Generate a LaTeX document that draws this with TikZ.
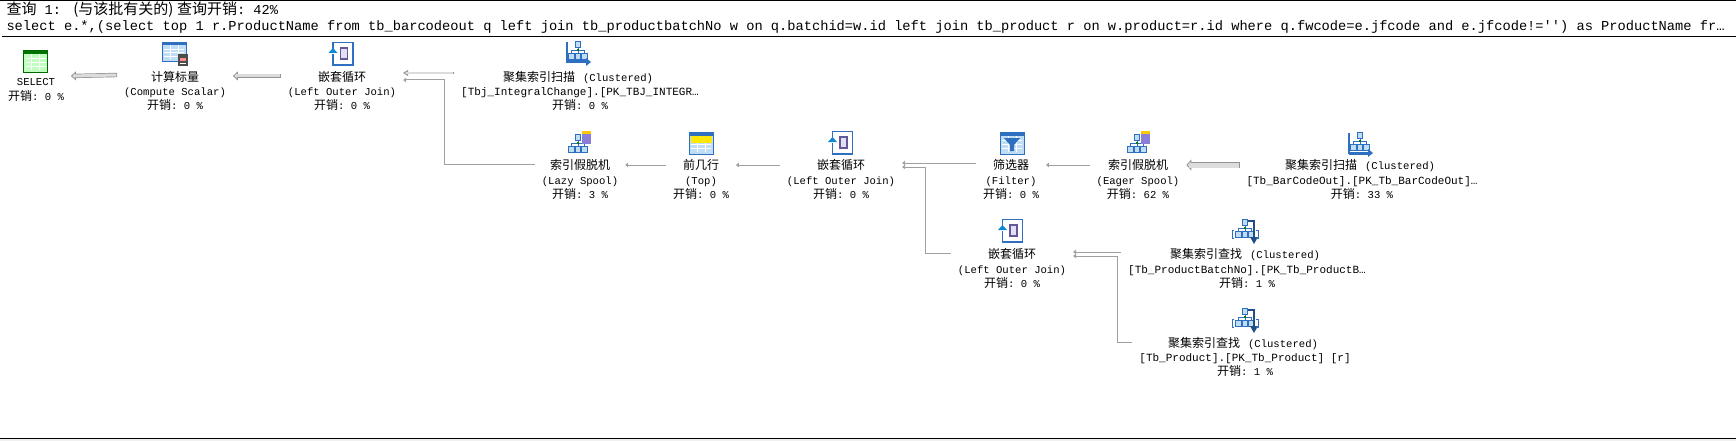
\documentclass[tikz,border=0pt]{standalone}
\usepackage{fontspec}
\setmonofont{Liberation Mono}
\newfontfamily\cjk{Noto Sans CJK SC}
\usetikzlibrary{arrows.meta}
\definecolor{linkgray}{HTML}{A0A0A0}
\definecolor{linkfill}{HTML}{DCDCDC}
\definecolor{iconblue}{HTML}{2F6FBF}
\definecolor{boxblue}{HTML}{BFDDF5}
\definecolor{spoolpurple}{HTML}{8A7FD8}
\newcommand{\opname}[3]{{\cjk\fontsize{12}{14}\selectfont #1}\\{#2}\\{\cjk\fontsize{12}{14}\selectfont 开销}: #3 \%}
\newcommand{\clus}{\hspace{8pt}{\ttfamily\fontsize{10.6}{14}\selectfont (Clustered)}\kern4pt}
\newcommand{\longrow}[1]{{\fontsize{11}{14.2}\selectfont #1}}
\tikzset{
  oplabel/.style={align=center,inner sep=0pt,outer sep=7pt,font=\ttfamily\fontsize{10.6}{14.2}\selectfont},
  headtext/.style={anchor=west,inner sep=0pt,font=\ttfamily\fontsize{13.7}{16}\selectfont},
  linkthin/.style={linkgray,line width=1pt,-{Triangle[length=3pt,width=4.5pt]}},
  linkfat/.style n args={2}{draw=gray!85,line width=#1+1.4pt,-{Triangle[length=5pt,width=#2,fill=linkfill,line width=.8pt]},
    postaction={draw=linkfill,line width=#1,-,shorten >=3pt,shorten <=.7pt}},
  pics/tablepic/.style n args={3}{code={
    \fill[#2] (-12,-11) rectangle (12,11);
    \fill[#1] (-12,-11) rectangle (12,-7);
    \foreach \yy in {-3,1,5}{\draw[white,line width=.5pt] (-10,\yy)--(10,\yy);}
    \foreach \xx in {-4,4}{\draw[white,line width=.5pt] (\xx,-7)--(\xx,9);}
    \draw[#3,line width=.5pt] (-12,-11) rectangle (12,11);
  }},
  pics/looppic/.style={code={
    \draw[iconblue,line width=1.6pt] (-9.5,-5)--(-9.5,-11.5)--(10.5,-11.5)--(10.5,11)--(-9.5,11)--(-9.5,0);
    \draw[spoolpurple!70!black,fill=spoolpurple!25,line width=1.2pt] (-2,-6) rectangle (5,5);
    \fill[cyan!70!blue] (-14,-1)--(-9.5,-6)--(-5,-1)--cycle;
  }},
  pics/treepic/.style={code={
    \draw[iconblue,line width=.7pt] (0,6)--(0,12) (-6.5,12)--(-6.5,9)--(6.5,9)--(6.5,12);
    \foreach \xx in {-6.5,0,6.5}{\draw[iconblue,fill=boxblue,line width=.7pt] (\xx-2.8,12) rectangle (\xx+2.8,18);}
    \draw[iconblue,fill=boxblue,line width=.7pt] (-2.8,0) rectangle (2.8,6);
    \fill[green!50!black] (-1,8) rectangle (1,10);
  }}
}
\begin{document}
\begin{tikzpicture}[x=1pt,y=-1pt,line width=1pt]
\useasboundingbox (0,0) rectangle (1736,441);
\fill[black!6] (0,439) rectangle (1736,441);
\draw (0,.5)--(1736,.5);
\draw (2,37)--(1736,37);
\draw (0,438)--(1736,438);
\node[headtext] (qtitle) at (6,10) {{\cjk\fontsize{15}{16}\selectfont 查询} 1: \hspace{4pt}{\cjk\fontsize{15}{16}\selectfont (与该批有关的)\hspace{3.5pt}查询开销}: 42\%};
\node[headtext] (qsql) at (6,27) {select e.*,(select top 1 r.ProductName from tb\_barcodeout q left join tb\_productbatchNo w on q.batchid=w.id left join tb\_product r on w.product=r.id where q.fwcode=e.jfcode and e.jfcode!='') as ProductName fr…};
% labels
\node[oplabel] (sel) at (36,90) {SELECT\\{\cjk\fontsize{12}{14}\selectfont 开销}: 0 \%};
\node[oplabel] (cscalar) at (175,91) {\opname{计算标量}{(Compute Scalar)}{0}};
\node[oplabel] (nlone) at (342,91) {\opname{嵌套循环}{(Left Outer Join)}{0}};
\node[oplabel] (scanint) at (580,91) {\opname{聚集索引扫描\clus}{\longrow{[Tbj\_IntegralChange].[PK\_TBJ\_INTEGR…}}{0}};
\node[oplabel] (lazy) at (580,179.5) {\opname{索引假脱机}{(Lazy Spool)}{3}};
\node[oplabel] (topn) at (701,179.5) {\opname{前几行}{(Top)}{0}};
\node[oplabel] (nltwo) at (841,179.5) {\opname{嵌套循环}{(Left Outer Join)}{0}};
\node[oplabel] (filt) at (1011,179.5) {\opname{筛选器}{(Filter)}{0}};
\node[oplabel] (eager) at (1138,179.5) {\opname{索引假脱机}{(Eager Spool)}{62}};
\node[oplabel] (scanbar) at (1362,179.5) {\opname{聚集索引扫描\clus}{\longrow{[Tb\_BarCodeOut].[PK\_Tb\_BarCodeOut]…}}{33}};
\node[oplabel] (nlthree) at (1012,268.5) {\opname{嵌套循环}{(Left Outer Join)}{0}};
\node[oplabel] (seekbatch) at (1247,268.5) {\opname{聚集索引查找\clus}{\longrow{[Tb\_ProductBatchNo].[PK\_Tb\_ProductB…}}{1}};
\node[oplabel] (seekprod) at (1245,357) {\opname{聚集索引查找\clus}{\longrow{[Tb\_Product].[PK\_Tb\_Product] [r]}}{1}};
% icons
\pic at (35.5,61) {tablepic={green!45!black}{green!25!white}{green!40!black}};
\pic[yscale=.86] at (174,51.5) {tablepic={iconblue}{boxblue}{iconblue}};
\fill[gray!60!black] (178,54) rectangle (188,66);
\fill[red!45!white] (180,58) rectangle (186,61);
\draw[white,line width=.6pt] (180,63)--(186,63);
\pic at (701,143) {tablepic={iconblue}{boxblue}{iconblue}};
\fill[yellow!90!orange] (691,136) rectangle (712,143);
\pic at (1012,143) {tablepic={iconblue}{boxblue}{iconblue}};
\fill[iconblue] (1004,138)--(1020,138)--(1014,145)--(1014,151)--(1010,151)--(1010,145)--cycle;
\foreach \px/\py in {342.5/54,842/143,1012/231}{\pic at (\px,\py) {looppic};}
\foreach \px/\py in {578/41,1360/132,1245/219,1245/308,578/134,1137/134}{\pic at (\px,\py) {treepic};}
\foreach \px/\py in {578/41,1360/132}{
  \begin{scope}[shift={(\px,\py)}]
  \draw[iconblue,line width=2pt] (-11,1)--(-11,22);
  \draw[iconblue,line width=3pt] (-11,21)--(8,21);
  \fill[iconblue] (8,17)--(13,21)--(8,25)--cycle;
  \end{scope}}
\foreach \px/\py in {1245/219,1245/308}{
  \begin{scope}[shift={(\px,\py)}]
  \draw[iconblue!70!black,line width=2pt] (3,2)--(9,2)--(9,18);
  \fill[iconblue!70!black] (5,18)--(13,18)--(9,25)--cycle;
  \draw[iconblue,line width=.8pt] (-11,11)--(-13,11)--(-13,19)--(-11,19);
  \draw[iconblue,line width=.8pt] (11,11)--(13,11)--(13,19)--(11,19);
  \end{scope}}
\foreach \px/\py in {578/134,1137/134}{
  \begin{scope}[shift={(\px,\py)}]
  \fill[spoolpurple] (4,-2) rectangle (13,10);
  \fill[yellow!60!orange] (4,-3) rectangle (13,0);
  \end{scope}}
% links
\coordinate (jlazy) at (444,80);
\coordinate (jsub) at (925,167);
\coordinate (jseek) at (1117,256);
\draw[linkfat={3pt}{9pt}] ([yshift=16]cscalar.west) -- ([yshift=14]sel.east);
\draw[linkfat={3pt}{9pt}] ([yshift=15]nlone.west) -- ([yshift=15]cscalar.east);
\draw[linkfat={1.2pt}{6pt}] ([yshift=18]scanint.west) -- ([yshift=18]nlone.east);
\draw[linkthin] ([yshift=15.5]lazy.west) -| (jlazy) -- ([yshift=11]nlone.east);
\draw[linkthin] ([yshift=14.5]topn.west) -- ([yshift=14.5]lazy.east);
\draw[linkthin] ([yshift=14.5]nltwo.west) -- ([yshift=14.5]topn.east);
\draw[linkthin] ([yshift=16.5]filt.west) -- ([yshift=16.5]nltwo.east);
\draw[linkthin] ([yshift=14.5]eager.west) -- ([yshift=14.5]filt.east);
\draw[linkfat={5pt}{11pt}] ([yshift=14.5]scanbar.west) -- ([yshift=14.5]eager.east);
\draw[linkthin] ([yshift=15.5]nlthree.west) -| (jsub) -- ([yshift=12.5]nltwo.east);
\draw[linkthin] ([yshift=16.5]seekbatch.west) -- ([yshift=16.5]nlthree.east);
\draw[linkthin] ([yshift=15]seekprod.west) -| (jseek) -- ([yshift=12.5]nlthree.east);
\end{tikzpicture}
\end{document}
